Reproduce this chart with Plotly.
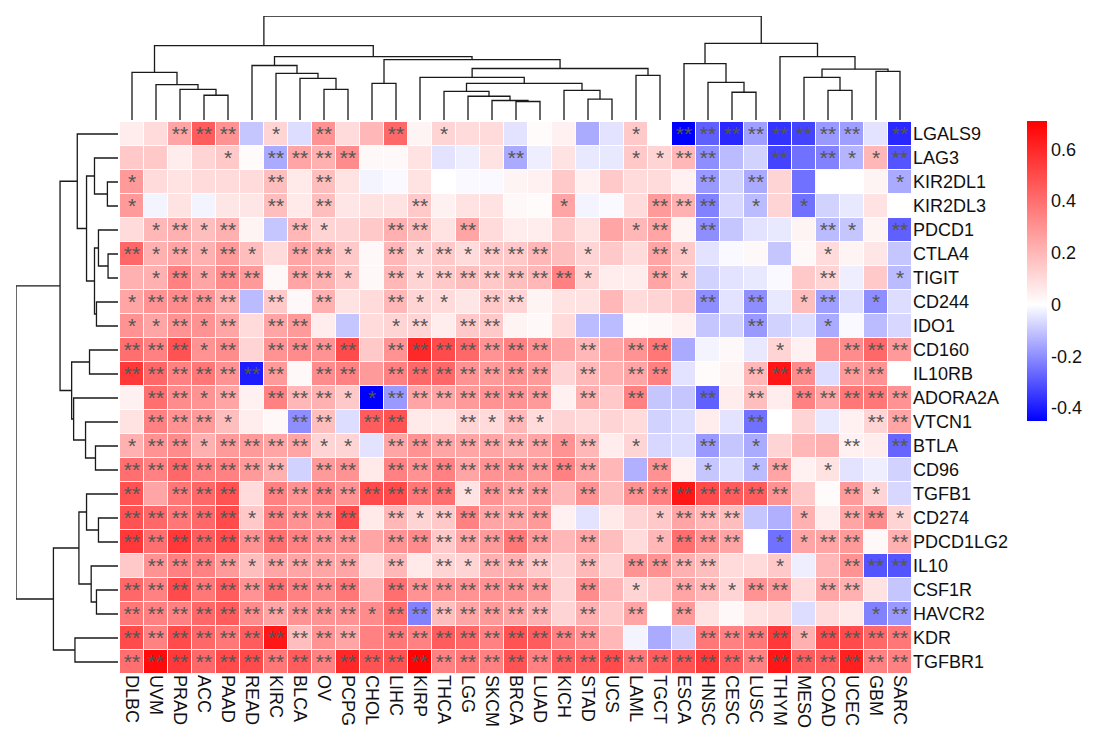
import plotly.graph_objects as go

cols = ["DLBC","UVM","PRAD","ACC","PAAD","READ","KIRC","BLCA","OV","PCPG","CHOL","LIHC","KIRP","THCA","LGG","SKCM","BRCA","LUAD","KICH","STAD","UCS","LAML","TGCT","ESCA","HNSC","CESC","LUSC","THYM","MESO","COAD","UCEC","GBM","SARC"]
rows = ["LGALS9","LAG3","KIR2DL1","KIR2DL3","PDCD1","CTLA4","TIGIT","CD244","IDO1","CD160","IL10RB","ADORA2A","VTCN1","BTLA","CD96","TGFB1","CD274","PDCD1LG2","IL10","CSF1R","HAVCR2","KDR","TGFBR1"]

r_LGALS9 = [0.05,0.10,0.25,0.45,0.30,-0.10,0.12,-0.06,0.30,0.10,0.20, 0.42,0.03,0.12,0.10,0.10,-0.05,0.01,0.04,-0.15,-0.05,0.15, 0.00,-0.45,-0.28,-0.38,-0.17,-0.36,-0.33,-0.18,-0.17,-0.05,-0.38]
r_LAG3 = [0.15,0.15,0.05,0.12,0.15,0.01,-0.15,0.25,0.22,0.32,0.02, 0.02,0.08,-0.05,-0.03,0.08,-0.15,-0.03,0.08,-0.04,-0.04,0.15, 0.12,0.20,-0.20,-0.12,-0.08,-0.33,-0.25,-0.22,-0.13,0.20,-0.30]
r_KIR2DL1 = [0.28,0.10,0.08,0.10,0.10,0.10,0.18,0.06,0.18,0.08,-0.02, -0.01,0.08,0.00,-0.01,-0.01,0.03,0.04,0.15,0.04,0.15,0.10, 0.10,0.04,-0.18,-0.08,-0.15,0.12,-0.25,0.00,0.00,0.03,-0.15]
r_KIR2DL3 = [0.28,-0.02,0.08,-0.02,0.07,0.07,0.18,0.06,0.18,0.07,0.08, 0.08,0.15,0.04,0.08,0.08,0.02,0.01,0.25,-0.02,-0.01,0.10, 0.28,0.22,-0.22,-0.07,-0.12,0.12,-0.25,-0.08,-0.04,0.08,0.00]
r_PDCD1 = [0.10,0.20,0.22,0.18,0.22,0.03,-0.10,0.20,0.12,0.12,0.15, 0.22,0.18,0.08,0.25,0.10,0.05,0.05,0.15,0.08,0.25,0.20, 0.25,0.03,-0.20,-0.10,-0.05,-0.04,0.03,-0.12,-0.10,0.03,-0.28]
r_CTLA4 = [0.42,0.22,0.25,0.22,0.28,0.18,0.10,0.25,0.22,0.15,0.02, 0.20,0.12,0.15,0.10,0.15,0.15,0.20,0.18,0.12,0.15,0.10, 0.25,0.15,-0.05,-0.01,0.02,-0.10,0.02,0.10,0.03,0.07,-0.10]
r_TIGIT = [0.22,0.22,0.35,0.25,0.32,0.28,0.02,0.25,0.22,0.15,0.02, 0.20,0.12,0.15,0.18,0.15,0.18,0.20,0.35,0.12,0.05,0.05, 0.25,0.15,-0.08,-0.05,-0.04,-0.01,0.15,0.12,-0.03,0.15,-0.12]
r_CD244 = [0.25,0.30,0.32,0.30,0.22,-0.12,0.15,0.02,0.22,0.08,0.10, 0.20,0.12,0.10,0.07,0.15,0.12,0.03,0.08,0.08,0.20,0.10, 0.12,0.15,-0.20,-0.05,-0.20,-0.04,0.18,-0.17,-0.06,-0.20,-0.06]
r_IDO1 = [0.30,0.25,0.30,0.30,0.25,0.10,0.25,0.28,0.05,-0.10,0.10, 0.12,0.12,0.05,0.15,0.15,0.03,0.02,0.10,-0.12,-0.12,0.01, 0.02,0.04,-0.10,-0.08,-0.18,-0.08,-0.06,-0.15,-0.01,-0.12,-0.07]
r_CD160 = [0.40,0.35,0.48,0.30,0.32,0.12,0.30,0.32,0.30,0.50,0.15, 0.30,0.60,0.50,0.42,0.30,0.35,0.30,0.25,0.20,0.25,0.30, 0.38,-0.15,-0.02,0.02,-0.04,0.12,0.04,0.30,0.32,0.42,0.28]
r_IL10RB = [0.55,0.42,0.35,0.38,0.30,-0.40,0.28,0.02,0.32,0.35,0.28, 0.35,0.42,0.42,0.30,0.28,0.30,0.28,0.12,0.20,0.22,0.25, 0.35,-0.05,0.01,0.03,0.20,0.65,0.32,-0.06,0.28,0.30,0.00]
r_ADORA2A = [0.04,0.40,0.32,0.30,0.25,0.04,0.35,0.20,0.22,0.15,-0.45, -0.18,0.25,0.25,0.28,0.30,0.30,0.28,0.04,0.22,0.15,0.35, -0.10,-0.10,-0.28,0.05,0.18,0.05,0.35,0.25,0.38,0.38,0.30]
r_VTCN1 = [0.08,0.35,0.30,0.28,0.18,0.05,0.02,-0.20,0.18,-0.06,0.45, 0.48,0.06,0.06,0.12,0.10,0.20,0.10,0.12,0.10,0.12,0.10, -0.08,-0.06,0.05,-0.05,-0.25,0.00,0.12,-0.04,0.04,0.12,0.25]
r_BTLA = [0.22,0.30,0.32,0.22,0.28,0.28,0.25,0.25,0.12,0.12,-0.05, 0.25,0.30,0.25,0.25,0.25,0.22,0.25,0.30,0.20,0.05,0.12, -0.07,-0.06,-0.18,-0.10,-0.15,0.12,0.20,0.22,0.04,0.05,-0.27]
r_CD96 = [0.40,0.35,0.42,0.35,0.35,0.28,0.22,-0.08,0.28,0.30,0.06, 0.35,0.30,0.35,0.25,0.30,0.30,0.28,0.35,0.25,0.20,-0.14, 0.30,0.04,-0.10,-0.06,-0.12,0.25,0.04,0.08,-0.05,-0.03,-0.08]
r_TGFB1 = [0.48,0.25,0.38,0.42,0.48,0.10,0.35,0.30,0.35,0.30,0.50, 0.50,0.38,0.40,0.08,0.30,0.25,0.28,0.20,0.30,0.18,0.30, 0.35,0.65,0.50,0.45,0.45,0.30,0.15,0.01,0.28,0.12,-0.07]
r_CD274 = [0.48,0.42,0.38,0.42,0.50,0.15,0.35,0.30,0.30,0.50,0.06, 0.20,0.12,0.15,0.35,0.25,0.25,0.28,0.04,-0.05,0.06,0.12, 0.15,0.25,0.20,0.18,-0.10,-0.14,0.22,0.05,0.25,0.32,0.12]
r_PDCD1LG2 = [0.55,0.40,0.55,0.45,0.50,0.30,0.40,0.35,0.30,0.30,0.25, 0.30,0.32,0.15,0.25,0.28,0.38,0.28,0.20,0.25,0.18,0.10, 0.20,0.40,0.30,0.25,0.00,-0.25,0.25,0.25,0.28,0.02,0.22]
r_IL10 = [0.15,0.30,0.35,0.35,0.28,0.18,0.25,0.25,0.25,0.25,0.10, 0.20,0.06,0.12,0.12,0.22,0.22,0.15,0.12,0.20,0.12,0.30, 0.30,0.22,0.18,0.10,0.10,0.15,-0.03,0.20,0.30,-0.30,-0.30]
r_CSF1R = [0.42,0.35,0.50,0.38,0.45,0.30,0.40,0.35,0.32,0.38,0.22, 0.40,0.30,0.30,0.30,0.30,0.30,0.28,0.12,0.32,0.20,0.12, 0.15,0.25,0.20,0.12,0.30,0.28,0.10,0.25,0.22,0.08,-0.10]
r_HAVCR2 = [0.38,0.35,0.35,0.42,0.45,0.32,0.25,0.30,0.30,0.30,0.32, 0.40,-0.22,0.18,0.25,0.28,0.25,0.22,0.12,0.22,0.15,0.25, 0.00,0.28,0.08,0.02,0.08,0.10,-0.06,0.10,0.06,-0.22,-0.18]
r_KDR = [0.50,0.35,0.50,0.42,0.38,0.45,0.65,0.18,0.30,0.25,0.35, 0.38,0.35,0.45,0.42,0.35,0.48,0.45,0.35,0.30,0.20,-0.02, -0.15,-0.08,0.38,0.35,0.38,0.55,0.22,0.50,0.50,0.42,0.38]
r_TGFBR1 = [0.40,0.68,0.55,0.42,0.50,0.50,0.38,0.45,0.35,0.60,0.48, 0.48,0.70,0.35,0.38,0.35,0.48,0.35,0.45,0.45,0.50,0.38, 0.45,0.48,0.55,0.45,0.35,0.65,0.45,0.45,0.62,0.35,0.35]

values = [r_LGALS9, r_LAG3, r_KIR2DL1, r_KIR2DL3, r_PDCD1, r_CTLA4, r_TIGIT, r_CD244, r_IDO1,
          r_CD160, r_IL10RB, r_ADORA2A, r_VTCN1, r_BTLA, r_CD96, r_TGFB1, r_CD274, r_PDCD1LG2,
          r_IL10, r_CSF1R, r_HAVCR2, r_KDR, r_TGFBR1]

# significance codes per row: 0 = none, 1 = *, 2 = **
signif = [
    "00222010200" "20100000001" "02222222202",
    "00001022220" "00000200001" "12200202112",
    "10000020200" "00000000000" "00202000001",
    "10000020200" "02000001000" "22201010000",
    "01212002100" "22020000001" "20200002102",
    "21212102210" "21212220100" "21000001000",
    "01212202210" "21222222100" "21000002001",
    "12222020200" "21102200000" "00202012010",
    "11212022000" "12022000000" "00002001000",
    "22212022220" "22222220202" "20000100222",
    "22222220220" "22222220202" "20002220220",
    "02212022211" "22222220202" "00202022222",
    "02221002202" "20021210000" "00002000022",
    "12212222110" "22222221201" "00201000202",
    "22222220220" "22222222200" "20101201000",
    "20222022222" "22212220202" "22222200210",
    "22222122220" "21222220000" "12220010221",
    "22222222220" "22222220200" "12220112202",
    "02222122220" "20212220202" "22200100222",
    "22222222220" "22222220201" "02212202200",
    "22222222221" "22222220202" "02000000012",
    "22222222220" "22222222200" "00222212222",
    "22222222222" "22222222222" "22222222222",
]
star_text = [["" if c == "0" else "*" * int(c) for c in s] for s in signif]

# column dendrogram: (left child, right child, height); ids >= n are earlier merges
col_merges = [
    (3, 4, 75), (2, 33, 93), (1, 34, 107), (0, 35, 144),
    (8, 9, 93), (7, 37, 126), (6, 38, 141), (5, 39, 165),
    (10, 11, 111),
    (16, 17, 56), (15, 42, 59), (14, 43, 72), (13, 44, 87),
    (19, 20, 63), (18, 46, 90), (45, 47, 111), (12, 48, 129),
    (21, 22, 135), (49, 50, 156), (41, 51, 183), (40, 52, 192), (36, 53, 225),
    (25, 26, 84), (24, 55, 114), (23, 56, 171),
    (29, 30, 90), (28, 58, 129), (31, 32, 147), (59, 60, 154), (27, 61, 192),
    (57, 62, 232), (54, 63, 315),
]
# row dendrogram
row_merges = [
    (2, 3, 32), (1, 23, 71), (5, 6, 30), (4, 25, 59), (7, 8, 65), (26, 27, 71),
    (24, 28, 95), (0, 29, 123), (9, 10, 86), (13, 14, 68), (12, 32, 98),
    (11, 33, 134), (31, 34, 140), (30, 35, 175),
    (16, 17, 59), (15, 37, 95), (19, 20, 65), (18, 39, 81), (38, 40, 118),
    (21, 22, 130), (41, 42, 195), (36, 43, 308),
]


def dendro_lines(n, merges):
    pos = {i: float(i) for i in range(n)}
    hgt = {i: 0.0 for i in range(n)}
    xs, ys = [], []
    for k, (a, b, h) in enumerate(merges):
        xa, xb = pos[a], pos[b]
        xs += [xa, xa, xb, xb, None]
        ys += [hgt[a], h, h, hgt[b], None]
        pos[n + k] = (xa + xb) / 2
        hgt[n + k] = h
    return xs, ys


W, H = 1102, 735
hx0, hx1 = 112, 904
hy0, hy1 = 114, 666
FS = 18

fig = go.Figure()
fig.add_trace(go.Heatmap(
    x=cols, y=rows, z=values, text=star_text, texttemplate="%{text}",
    textfont=dict(size=21, color="#555555", family="Liberation Sans, Arial"),
    colorscale=[[0, "#0000FF"], [0.45 / 1.16, "#FFFFFF"], [1, "#FF0000"]],
    zmin=-0.45, zmax=0.71, xgap=1, ygap=1, hoverinfo="skip",
    colorbar=dict(
        x=1019 / W, xanchor="left", xpad=0, ypad=0,
        y=1 - 113 / H, yanchor="top", len=300 / H, lenmode="fraction",
        thickness=20, outlinewidth=0, ticks="",
        tickvals=[-0.4, -0.2, 0, 0.2, 0.4, 0.6],
        ticktext=["-0.4", "-0.2", "0", "0.2", "0.4", "0.6"],
        tickfont=dict(size=FS, color="#111"),
    ),
))

cx, cy = dendro_lines(len(cols), col_merges)
fig.add_trace(go.Scatter(x=cx, y=cy, mode="lines", xaxis="x2", yaxis="y2",
                         line=dict(color="#1a1a1a", width=1.3), hoverinfo="skip", showlegend=False))
rx, ry = dendro_lines(len(rows), row_merges)
fig.add_trace(go.Scatter(x=ry, y=rx, mode="lines", xaxis="x3", yaxis="y3",
                         line=dict(color="#1a1a1a", width=1.3), hoverinfo="skip", showlegend=False))

fig.update_layout(
    width=W, height=H, margin=dict(l=0, r=0, t=0, b=0),
    paper_bgcolor="white", plot_bgcolor="white",
    font=dict(family="Liberation Sans, Arial", color="#111"),
    showlegend=False,
    xaxis=dict(domain=[hx0 / W, hx1 / W], anchor="y", tickangle=90, showgrid=False,
               zeroline=False, ticks="", tickfont=dict(size=FS), showline=False),
    yaxis=dict(domain=[1 - hy1 / H, 1 - hy0 / H], anchor="x", autorange="reversed",
               side="right", showgrid=False, zeroline=False, ticks="",
               tickfont=dict(size=FS), showline=False),
    xaxis2=dict(domain=[hx0 / W, hx1 / W], anchor="y2", range=[-0.5, len(cols) - 0.5], visible=False),
    yaxis2=dict(domain=[1 - 112 / H, 1 - 8 / H], anchor="x2", range=[0, 315], visible=False),
    xaxis3=dict(domain=[8 / W, 110 / W], anchor="y3", range=[308, 0], visible=False),
    yaxis3=dict(domain=[1 - hy1 / H, 1 - hy0 / H], anchor="x3", range=[len(rows) - 0.5, -0.5], visible=False),
)

fig.write_html("out.html")
